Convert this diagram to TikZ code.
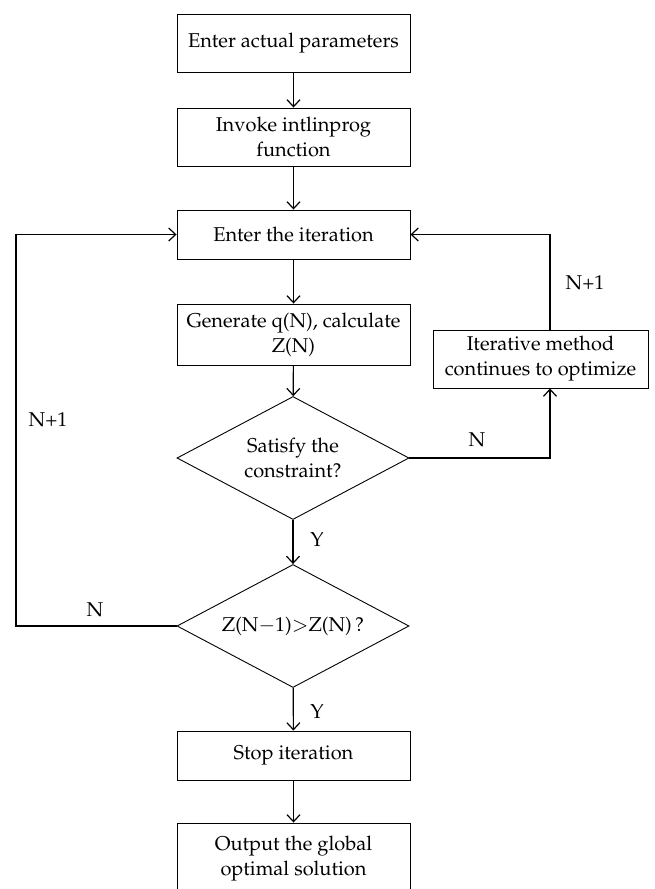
\documentclass[tikz,border=0pt]{standalone}
\usepackage[T1]{fontenc}
\usepackage{mathpazo}
\usetikzlibrary{arrows.meta,shapes.geometric}
\begin{document}
\begin{tikzpicture}[x=1pt,y=-1pt,
  txt/.style={font=\fontsize{20}{25}\selectfont},
  box/.style={txt, draw, line width=0.9pt, minimum width=233pt, align=center, inner sep=0pt},
  dec/.style={txt, draw, line width=0.9pt, diamond, aspect=2, minimum width=232pt, minimum height=123pt, inner sep=0pt, align=center},
  arr/.style={line width=1.2pt, -{Straight Barb[length=7pt,width=13pt]}},
  lbl/.style={txt, inner sep=0pt}]
\useasboundingbox (0,0) rectangle (655,889);

\node[box, minimum height=58pt] (b1) at (293.5,43) {Enter actual parameters};
\node[box, minimum height=58pt] (b2) at (293.5,137) {Invoke intlinprog\\function};
\node[box, minimum height=49pt] (b3) at (293.5,234.5) {Enter the iteration};
\node[box, minimum height=61pt] (b4) at (293.5,334.5) {Generate q(N), calculate\\Z(N)};
\node[dec] (d1) at (293,458) {Satisfy the\\constraint?};
\node[dec] (d2) at (293,626) {Z(N$-$1)$>$Z(N)\,?};
\node[box, minimum height=49pt] (b5) at (293.5,755.5) {Stop iteration};
\node[box, minimum height=72pt] (b6) at (293.5,859) {Output the global\\optimal solution};
\node[box, minimum width=215pt, minimum height=58pt] (r) at (540.5,359) {Iterative method\\continues to optimize};

\coordinate (lc) at (16,626);

\draw[arr] (b1) -- (b2);
\draw[arr] (b2) -- (b3);
\draw[arr] (b3) -- (b4);
\draw[arr] (b4) -- (d1);
\draw[arr] (d1) -- (d2);
\draw[arr] (d2) -- (b5);
\draw[arr] (b5) -- (b6);
\draw[arr] (d1.east) -| ([xshift=9.5pt]r.south);
\draw[arr] ([xshift=9.5pt]r.north) |- (b3.east);
\draw[arr] (d2.west) -- (lc) |- (b3.west);

\node[lbl] (l1) at (585,283) {N+1};
\node[lbl] (l2) at (477,440) {N};
\node[lbl] (l3) at (48,420) {N+1};
\node[lbl] (l4) at (95,610) {N};
\node[lbl] (l5) at (317,540) {Y};
\node[lbl] (l6) at (317,712) {Y};
\end{tikzpicture}
\end{document}
